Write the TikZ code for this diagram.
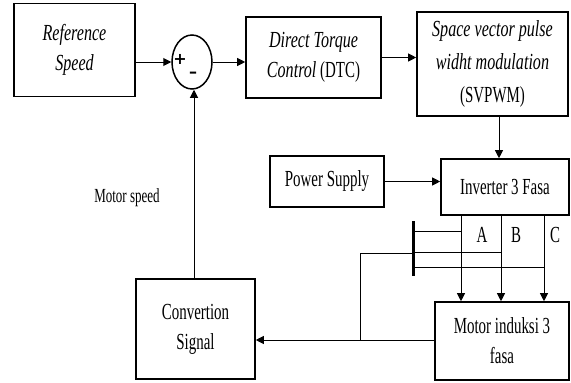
\documentclass[tikz,border=0pt]{standalone}
\usepackage{fontspec}
\setmainfont{Liberation Serif}[FakeStretch=0.65, ItalicFeatures={FakeStretch=0.7}]
\newfontfamily\sumfont{DejaVu Sans}
\usetikzlibrary{arrows.meta,shapes.geometric}
\begin{document}
\begin{tikzpicture}[x=1pt,y=-1pt,
  box/.style={draw, line width=1.6pt, inner sep=0pt, align=center, font=\fontsize{23}{30}\selectfont},
  conn/.style={line width=1pt},
  arr/.style={conn,-{Triangle[length=8pt,width=8pt]}},
  lbl/.style={inner sep=0pt, font=\fontsize{23}{30}\selectfont}]
\useasboundingbox (0,0) rectangle (571,383);
% blocks
\node[box, minimum width=121pt, minimum height=93pt] (ref) at (74.5,50) {\textit{Reference}\\\textit{Speed}};
\node[draw, ellipse, line width=1.5pt, minimum width=40pt, minimum height=54pt, inner sep=0pt] (sum) at (192,62) {};
\node[inner sep=0pt, font=\sumfont\bfseries\fontsize{16}{16}\selectfont] (plus) at (180,59) {+};
\node[inner sep=0pt, font=\sumfont\bfseries\fontsize{16}{16}\selectfont] (minus) at (193,75) {–};
\node[box, minimum width=135pt, minimum height=81pt] (dtc) at (313.5,57.5) {\textit{Direct Torque}\\\textit{Control} (DTC)};
\node[box, minimum width=151pt, minimum height=104pt, font=\fontsize{23}{33}\selectfont] (svp) at (492.5,64) {\textit{Space vector pulse}\\\textit{widht modulation}\\(SVPWM)};
\node[box, minimum width=114pt, minimum height=51pt] (ps) at (327,181.5) {Power Supply};
\node[box, minimum width=128pt, minimum height=56pt] (inv) at (505,187) {Inverter 3 Fasa};
\node[box, minimum width=134pt, minimum height=78pt] (mot) at (502,341) {Motor induksi 3\\fasa};
\node[box, minimum width=119pt, minimum height=100pt] (conv) at (195.5,329) {Convertion\\Signal};
% labels
\node[inner sep=0pt, font=\fontsize{20}{22}\selectfont] (ms) at (127,198) {Motor speed};
\node[lbl] (la) at (482,235) {A};
\node[lbl] (lb) at (516,235) {B};
\node[lbl] (lc) at (555,235) {C};
% helper coordinates
\coordinate (xs) at (499,0);
\coordinate (xa) at (461,0);
\coordinate (xb) at (501,0);
\coordinate (xc) at (544,0);
\coordinate (xf) at (194,0);
\coordinate (yf) at (0,340);
\coordinate (bt) at (413,221);
\coordinate (bb) at (413,276);
\coordinate (ta) at (413,231);
\coordinate (tb) at (413,252);
\coordinate (tc) at (413,267);
\coordinate (tf) at (413,253);
\coordinate (jf) at (360,340);
% connectors
\draw[arr] (ref.east |- sum.west) -- (sum.west);
\draw[arr] (sum.east) -- (dtc.west |- sum.east);
\draw[arr] (dtc.east) -- (svp.west |- dtc.east);
\draw[arr] (svp.south -| xs) -- (inv.north -| xs);
\draw[arr] (ps.east) -- (inv.west |- ps.east);
\draw[arr] (inv.south -| xa) -- (mot.north -| xa);
\draw[arr] (inv.south -| xb) -- (mot.north -| xb);
\draw[arr] (inv.south -| xc) -- (mot.north -| xc);
\draw[line width=3pt] (bt) -- (bb);
\draw[conn] (ta) -- (ta -| xa);
\draw[conn] (tb) -- (tb -| xb);
\draw[conn] (tc) -- (tc -| xc);
\draw[conn] (tf) -| (jf);
\draw[arr] (mot.west |- yf) -- (conv.east |- yf);
\draw[arr] (conv.north -| xf) -- (sum.south -| xf);
\end{tikzpicture}
\end{document}
